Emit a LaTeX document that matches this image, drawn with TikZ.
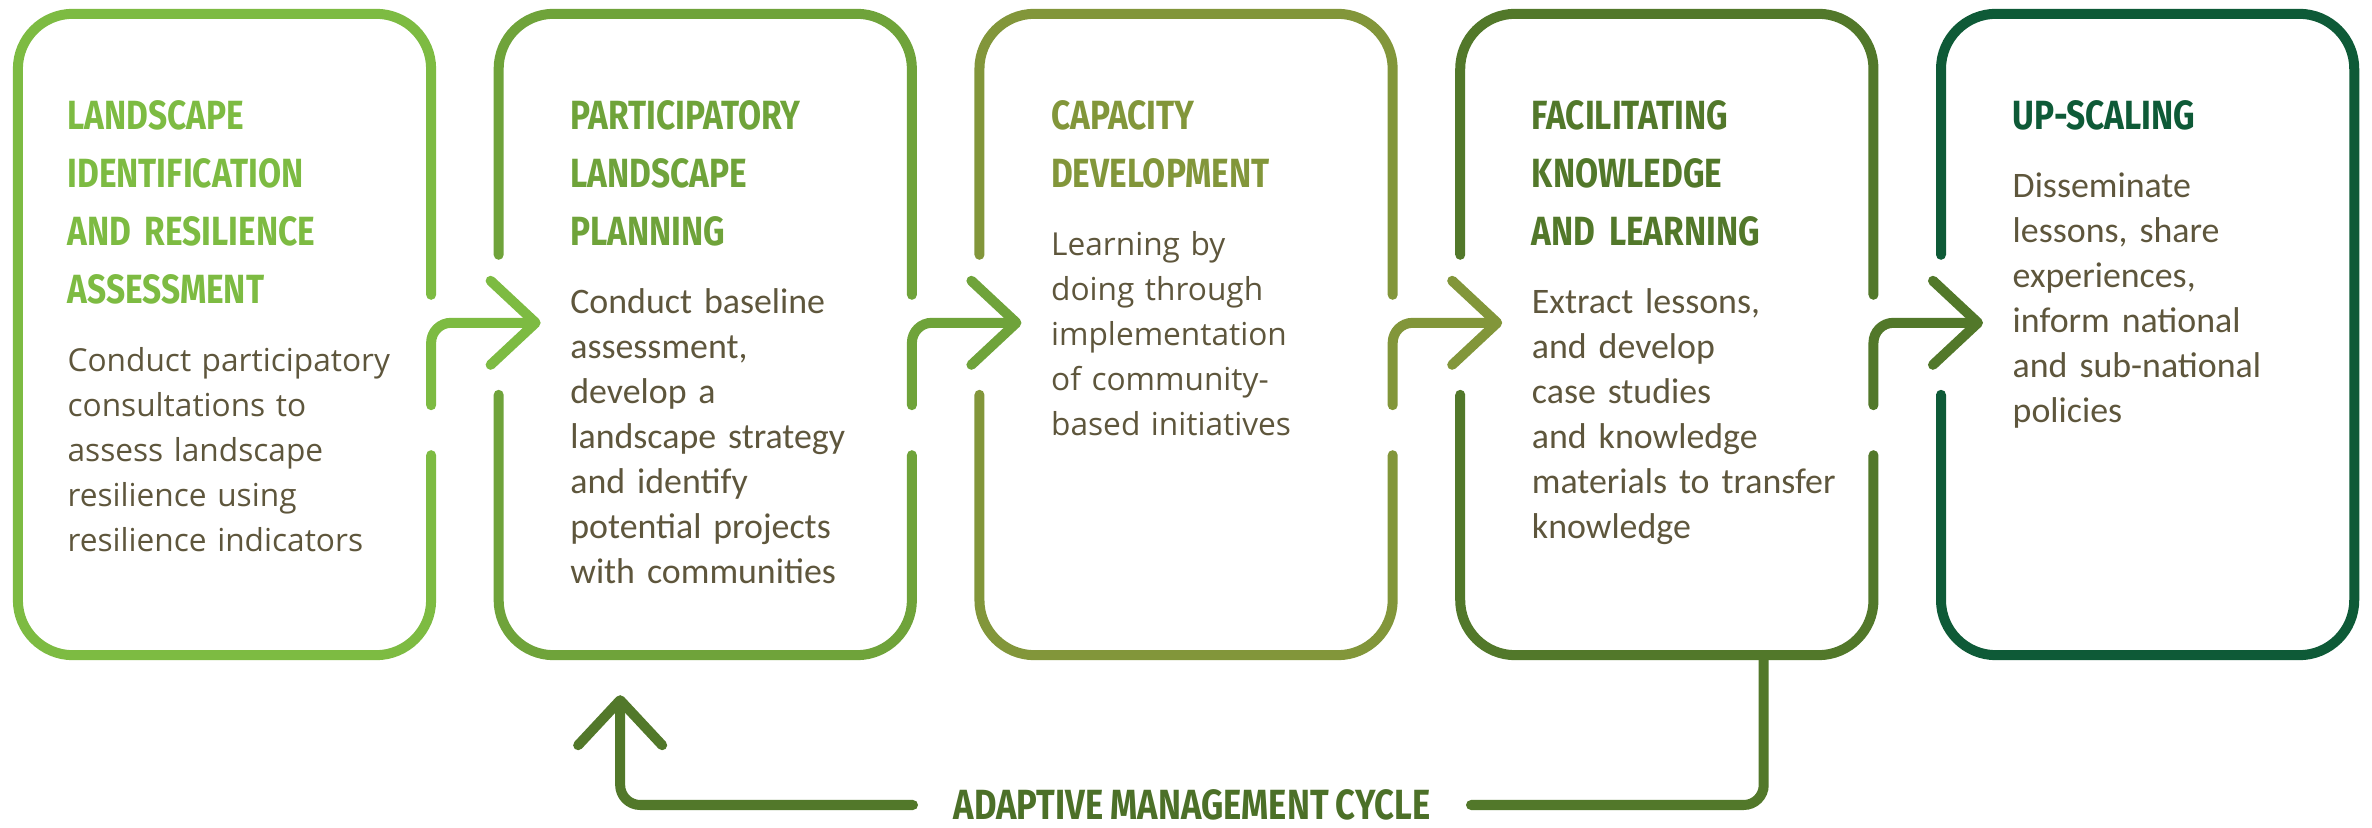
\documentclass[tikz,border=0pt]{standalone}
\usepackage{fontspec}
\setmainfont{Carlito}
\newfontfamily\headfont[FakeStretch=0.82]{Fira Sans}
\newfontfamily\widefont{Open Sans}
\newcommand\tightwords{\spaceskip 0.17em\relax}
\usetikzlibrary{calc}
\usetikzlibrary{positioning}
\usetikzlibrary{arrows.meta}
\definecolor{stepone}{RGB}{125,187,66}
\definecolor{steptwo}{RGB}{111,163,58}
\definecolor{stepthree}{RGB}{130,150,58}
\definecolor{stepfour}{RGB}{82,120,42}
\definecolor{stepfive}{RGB}{14,90,55}
\definecolor{bodygray}{RGB}{94,86,60}
\definecolor{cyclegreen}{RGB}{76,112,40}
\tikzset{
  panel/.style={
    shape=rectangle,
    minimum width=4.13cm,
    minimum height=6.41cm,
    inner sep=0pt,
    outer sep=0pt,
  },
  frame/.style={
    line width=1mm,
    line cap=round,
    rounded corners=0.55cm,
  },
  flow/.style={
    line width=1mm,
    line cap=round,
    rounded corners=0.2cm,
    -{Straight Barb[length=4.5mm, width=8.4mm, round]},
  },
  heading/.style={
    anchor=base west,
    inner sep=0pt,
    text width=3.5cm,
    align=left,
    font=\headfont\bfseries\fontsize{11.6}{16.5}\selectfont\tightwords
  },
  blurb/.style={
    anchor=base west,
    inner sep=0pt,
    text width=3.5cm,
    align=left,
    text=bodygray,
    font=\fontsize{10.2}{12.8}\selectfont
  },
  blurbwide/.style={
    blurb,
    font=\widefont\fontsize{9}{12.8}\selectfont
  },
  cyclelabel/.style={
    inner xsep=0.4cm,
    inner ysep=0pt,
    text=cyclegreen,
    font=\headfont\bfseries\fontsize{12}{14}\selectfont\tightwords
  }
}

\begin{document}
\begin{tikzpicture}[x=0.01cm, y=-0.01cm]
    \useasboundingbox (0,0) rectangle (2372,828);

    % the five stages
    \node[panel] (b1) at (224.5,334.5) {};
    \node[panel] (b2) [right=0.675cm of b1] {};
    \node[panel] (b3) [right=0.675cm of b2] {};
    \node[panel] (b4) [right=0.675cm of b3] {};
    \node[panel] (b5) [right=0.675cm of b4] {};

    % outlines, with gaps where the arrows pass
    \draw[frame, stepone] ($(b1.north east)+(0,281)$) -- (b1.north east) -- (b1.north west) -- (b1.south west) -- (b1.south east) -- ($(b1.south east)+(0,-200)$);
    \draw[frame, steptwo] ($(b2.north west)+(0,241)$) -- (b2.north west) -- (b2.north east) -- ($(b2.north east)+(0,281)$)
                          ($(b2.north west)+(0,381)$) -- (b2.south west) -- (b2.south east) -- ($(b2.south east)+(0,-200)$);
    \draw[frame, stepthree] ($(b3.north west)+(0,241)$) -- (b3.north west) -- (b3.north east) -- ($(b3.north east)+(0,281)$)
                          ($(b3.north west)+(0,381)$) -- (b3.south west) -- (b3.south east) -- ($(b3.south east)+(0,-200)$);
    \draw[frame, stepfour] ($(b4.north west)+(0,241)$) -- (b4.north west) -- (b4.north east) -- ($(b4.north east)+(0,281)$)
                          ($(b4.north west)+(0,381)$) -- (b4.south west) -- (b4.south east) -- ($(b4.south east)+(0,-200)$);
    \draw[frame, stepfive] ($(b5.north west)+(0,241)$) -- (b5.north west) -- (b5.north east) -- (b5.south east) -- (b5.south west) -- ($(b5.north west)+(0,381)$);

    % arrows from stage to stage
    \coordinate (t12) at ($(b2.north west)+(42,309)$);
    \coordinate (t23) at ($(b3.north west)+(42,309)$);
    \coordinate (t34) at ($(b4.north west)+(42,309)$);
    \coordinate (t45) at ($(b5.north west)+(42,309)$);
    \draw[flow, stepone]   ($(b1.south east)+(0,-250)$) |- (t12);
    \draw[flow, steptwo]   ($(b2.south east)+(0,-250)$) |- (t23);
    \draw[flow, stepthree] ($(b3.south east)+(0,-250)$) |- (t34);
    \draw[flow, stepfour]  ($(b4.south east)+(0,-250)$) |- (t45);

    % headings and descriptions
    \node[heading, text=stepone]   (h1) at ($(b1.north west)+(49,116)$) {LANDSCAPE\\ IDENTIFICATION\\ AND RESILIENCE\\ ASSESSMENT};
    \node[heading, text=steptwo]   (h2) at ($(b2.north west)+(71,116)$) {PARTICIPATORY\\ LANDSCAPE\\ PLANNING};
    \node[heading, text=stepthree] (h3) at ($(b3.north west)+(71,116)$) {CAPACITY\\ DEVELOPMENT};
    \node[heading, text=stepfour]  (h4) at ($(b4.north west)+(71,116)$) {FACILITATING\\ KNOWLEDGE\\ AND LEARNING};
    \node[heading, text=stepfive]  (h5) at ($(b5.north west)+(71,116)$) {UP-SCALING};

    \node[blurbwide] (d1) at ($(h1.south west)+(0,66)$) {Conduct participatory\\ consultations to\\ assess landscape\\ resilience using\\ resilience indicators};
    \node[blurb]     (d2) at ($(h2.south west)+(0,66)$) {Conduct baseline\\ assessment,\\ develop a\\ landscape strategy\\ and identify\\ potential projects\\ with communities};
    \node[blurbwide] (d3) at ($(h3.south west)+(0,66)$) {Learning by\\ doing through\\ implementation\\ of community-\\ based initiatives};
    \node[blurb]     (d4) at ($(h4.south west)+(0,66)$) {Extract lessons,\\ and develop\\ case studies\\ and knowledge\\ materials to transfer\\ knowledge};
    \node[blurb]     (d5) at ($(h5.south west)+(0,66)$) {Disseminate\\ lessons, share\\ experiences,\\ inform national\\ and sub-national\\ policies};

    % feedback loop
    \node[cyclelabel] (amc) at (1192,805) {ADAPTIVE MANAGEMENT CYCLE};
    \coordinate (drop) at ($(b4.south west)+(303.5,0)$);
    \coordinate (back) at ($(b2.south west)+(121.5,40)$);
    \draw[frame, rounded corners=0.2cm, stepfour] (drop) |- (amc.east);
    \draw[flow, stepfour] (amc.west) -| (back);
\end{tikzpicture}
\end{document}
